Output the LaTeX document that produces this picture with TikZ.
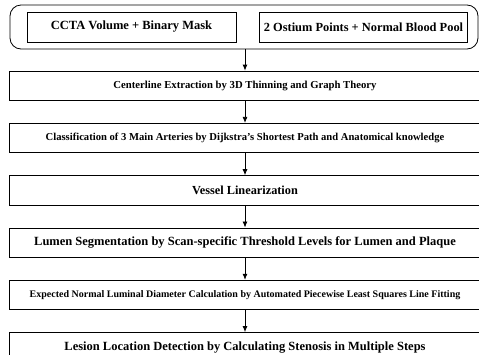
\documentclass[tikz,border=0pt]{standalone}
\usepackage{fontspec}
\setmainfont{Liberation Serif}
\usepackage{tikz}
\usetikzlibrary{arrows.meta, positioning}
\newcommand{\fs}[1]{\bfseries\fontsize{#1}{#1}\selectfont}
\tikzset{
  stage/.style={rectangle, draw, thick, align=center, inner sep=1pt, minimum width=472pt, minimum height=29.5pt, font=\fs{12.5}},
  inbox/.style={rectangle, draw, thick, align=center, inner sep=0pt, minimum height=30pt},
  group/.style={rectangle, draw, thick, rounded corners=11pt, minimum width=468pt, minimum height=44pt},
  line/.style={thick, -{Latex[length=6pt, width=5pt]}}
}

\begin{document}
\begin{tikzpicture}[x=1pt, y=1pt, node distance=22pt]
    \useasboundingbox (0,0) rectangle (479,-354);
    \node[group] (inp) at (244,-27) {};
    \node[inbox, minimum width=209pt, font=\fs{12.5}] (vol) at (131.5,-27) {CCTA Volume + Binary Mask};
    \node[inbox, minimum width=208pt, font=\fs{12.4}] (ost) at (363.5,-27) {2 Ostium Points + Normal Blood Pool};
    \node[stage, font=\fs{10.7}] (cen) at (245,-85.75) {Centerline Extraction by 3D Thinning and Graph Theory};
    \node[stage, below=of cen, font=\fs{10.6}] (cls) {Classification of 3 Main Arteries by Dijkstra’s Shortest Path and Anatomical knowledge};
    \node[stage, below=of cls, font=\fs{12.3}] (lin) {Vessel Linearization};
    \node[stage, below=of lin] (seg) {Lumen Segmentation by Scan-specific Threshold Levels for Lumen and Plaque};
    \node[stage, below=of seg, font=\fs{10}] (dia) {Expected Normal Luminal Diameter Calculation by Automated Piecewise Least Squares Line Fitting};
    \node[stage, below=of dia] (les) {Lesion Location Detection by Calculating Stenosis in Multiple Steps};
    \draw[line] (inp.south -| cen) -- (cen);
    \draw[line] (cen) -- (cls);
    \draw[line] (cls) -- (lin);
    \draw[line] (lin) -- (seg);
    \draw[line] (seg) -- (dia);
    \draw[line] (dia) -- (les);
  \end{tikzpicture}
\end{document}
